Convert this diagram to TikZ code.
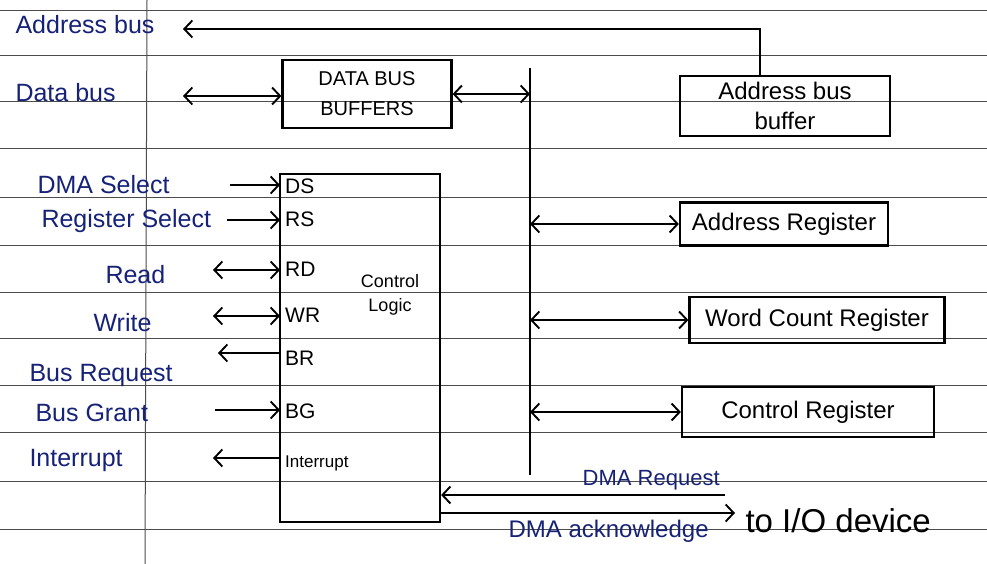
\documentclass[tikz,border=0pt]{standalone}
\usepackage{fontspec}
\setmainfont{Liberation Sans}
\usepackage{xcolor}
\usetikzlibrary{arrows.meta,positioning}
\definecolor{ink}{RGB}{22,34,120}

\begin{document}
\begin{tikzpicture}[
    x=1pt, y=-1pt,
    box/.style={rectangle, draw, line width=2.2pt, align=center, inner sep=0pt, font=\fontsize{24}{30}\selectfont},
    lbl/.style={anchor=west, text=ink, font=\fontsize{25}{27}\selectfont},
    pin/.style={anchor=west, inner xsep=5pt, font=\fontsize{21}{23}\selectfont},
    arrow/.style={-{Straight Barb[length=8pt, width=17pt]}, line width=1.9pt},
    arrows2/.style={{Straight Barb[length=8pt, width=17pt]}-{Straight Barb[length=8pt, width=17pt]}, line width=1.9pt},
    ruled/.style={black!70, line width=1pt}
]
\useasboundingbox (0,0) rectangle (987,564);
\fill[white] (0,0) rectangle (987,564);

% Ruled paper
\foreach \yy in {11,56,102,149,197,245,292,338,385,432,481,529}
  \draw[ruled] (0,\yy) -- (987,\yy);
\draw[ruled] (147,0) -- (145,564);

% Buffers
\node[box, minimum width=169pt, minimum height=68pt, font=\fontsize{20}{30}\selectfont] (dbb) at (367,94) {DATA BUS\\BUFFERS};
\node[box, minimum width=210pt, minimum height=60pt] (abb) at (785,106) {Address bus\\buffer};

% Control logic
\node[box, minimum width=160pt, minimum height=348pt] (ctrl) at (360,348) {};
\node[font=\fontsize{18}{24}\selectfont, align=center] (ctrltxt) at (390,295) {Control\\Logic};

% Registers
\node[box, minimum width=208pt, minimum height=43pt] (areg) at (784,224) {Address Register};
\node[box, minimum width=255pt, minimum height=46pt] (wcreg) at (817,320) {Word Count Register};
\node[box, minimum width=252pt, minimum height=50pt] (creg) at (808,412) {Control Register};

% Internal bus
\coordinate (bustop) at (530,68);
\coordinate (busbot) at (530,475);
\draw[line width=2.2pt] (bustop) -- (busbot);

% Pins
\node[pin] (ds) at (280,186) {DS};
\node[pin] (rs) at (280,219) {RS};
\node[pin] (rd) at (280,269) {RD};
\node[pin] (wr) at (280,315) {WR};
\node[pin] (br) at (280,358) {BR};
\node[pin] (bg) at (280,411) {BG};
\node[pin, font=\fontsize{17}{20}\selectfont] (intr) at (280,463) {Interrupt};

% Outside signals
\node[lbl] (addrbus) at (12,25) {Address bus};
\node[lbl] (databus) at (12,93) {Data bus};
\node[lbl] (dmasel) at (34,185) {DMA Select};
\node[lbl] (regsel) at (38,221) {Register Select};
\node[lbl] (read) at (102,275) {Read};
\node[lbl] (write) at (90,323) {Write};
\node[lbl] (busreq) at (26,375) {Bus Request};
\node[lbl] (busgnt) at (32,413) {Bus Grant};
\node[lbl] (intout) at (26,460) {Interrupt};

\coordinate (abus) at (183,29);
\coordinate (dbus) at (183,96);
\coordinate (dsin) at (230,185);
\coordinate (rsin) at (227,220);
\coordinate (rdin) at (213,270);
\coordinate (wrin) at (213,316);
\coordinate (brout) at (218,353);
\coordinate (bgin) at (215,410);
\coordinate (intend) at (213,458);

% Arrows
\draw[arrow] ([xshift=-25pt]abb.north) |- (abus);
\draw[arrows2] (dbus) -- (dbb.west |- dbus);
\draw[arrows2] (dbb.east) -- (dbb.east -| bustop);
\draw[arrow] (dsin) -- (ds.west |- dsin);
\draw[arrow] (rsin) -- (rs.west |- rsin);
\draw[arrows2] (rdin) -- (rd.west |- rdin);
\draw[arrows2] (wrin) -- (wr.west |- wrin);
\draw[arrow] (br.west |- brout) -- (brout);
\draw[arrow] (bgin) -- (bg.west |- bgin);
\draw[arrow] (intr.west |- intend) -- (intend);
\draw[arrows2] (areg.west -| bustop) -- (areg.west);
\draw[arrows2] (wcreg.west -| bustop) -- (wcreg.west);
\draw[arrows2] (creg.west -| bustop) -- (creg.west);

% To I/O device
\coordinate (dreq) at (725,495);
\coordinate (dack) at (735,513);
\draw[arrow] (dreq) -- (ctrl.east |- dreq) node[pos=0.26, above=1pt, text=ink, font=\fontsize{22}{24}\selectfont] (reqlbl) {DMA Request};
\draw[arrow] (ctrl.east |- dack) -- (dack) node[pos=0.57, below=3pt, text=ink, font=\fontsize{24}{26}\selectfont] (acklbl) {DMA acknowledge};
\node[anchor=west, font=\fontsize{33}{35}\selectfont] (iodev) at (742,521) {to I/O device};
\end{tikzpicture}
\end{document}
